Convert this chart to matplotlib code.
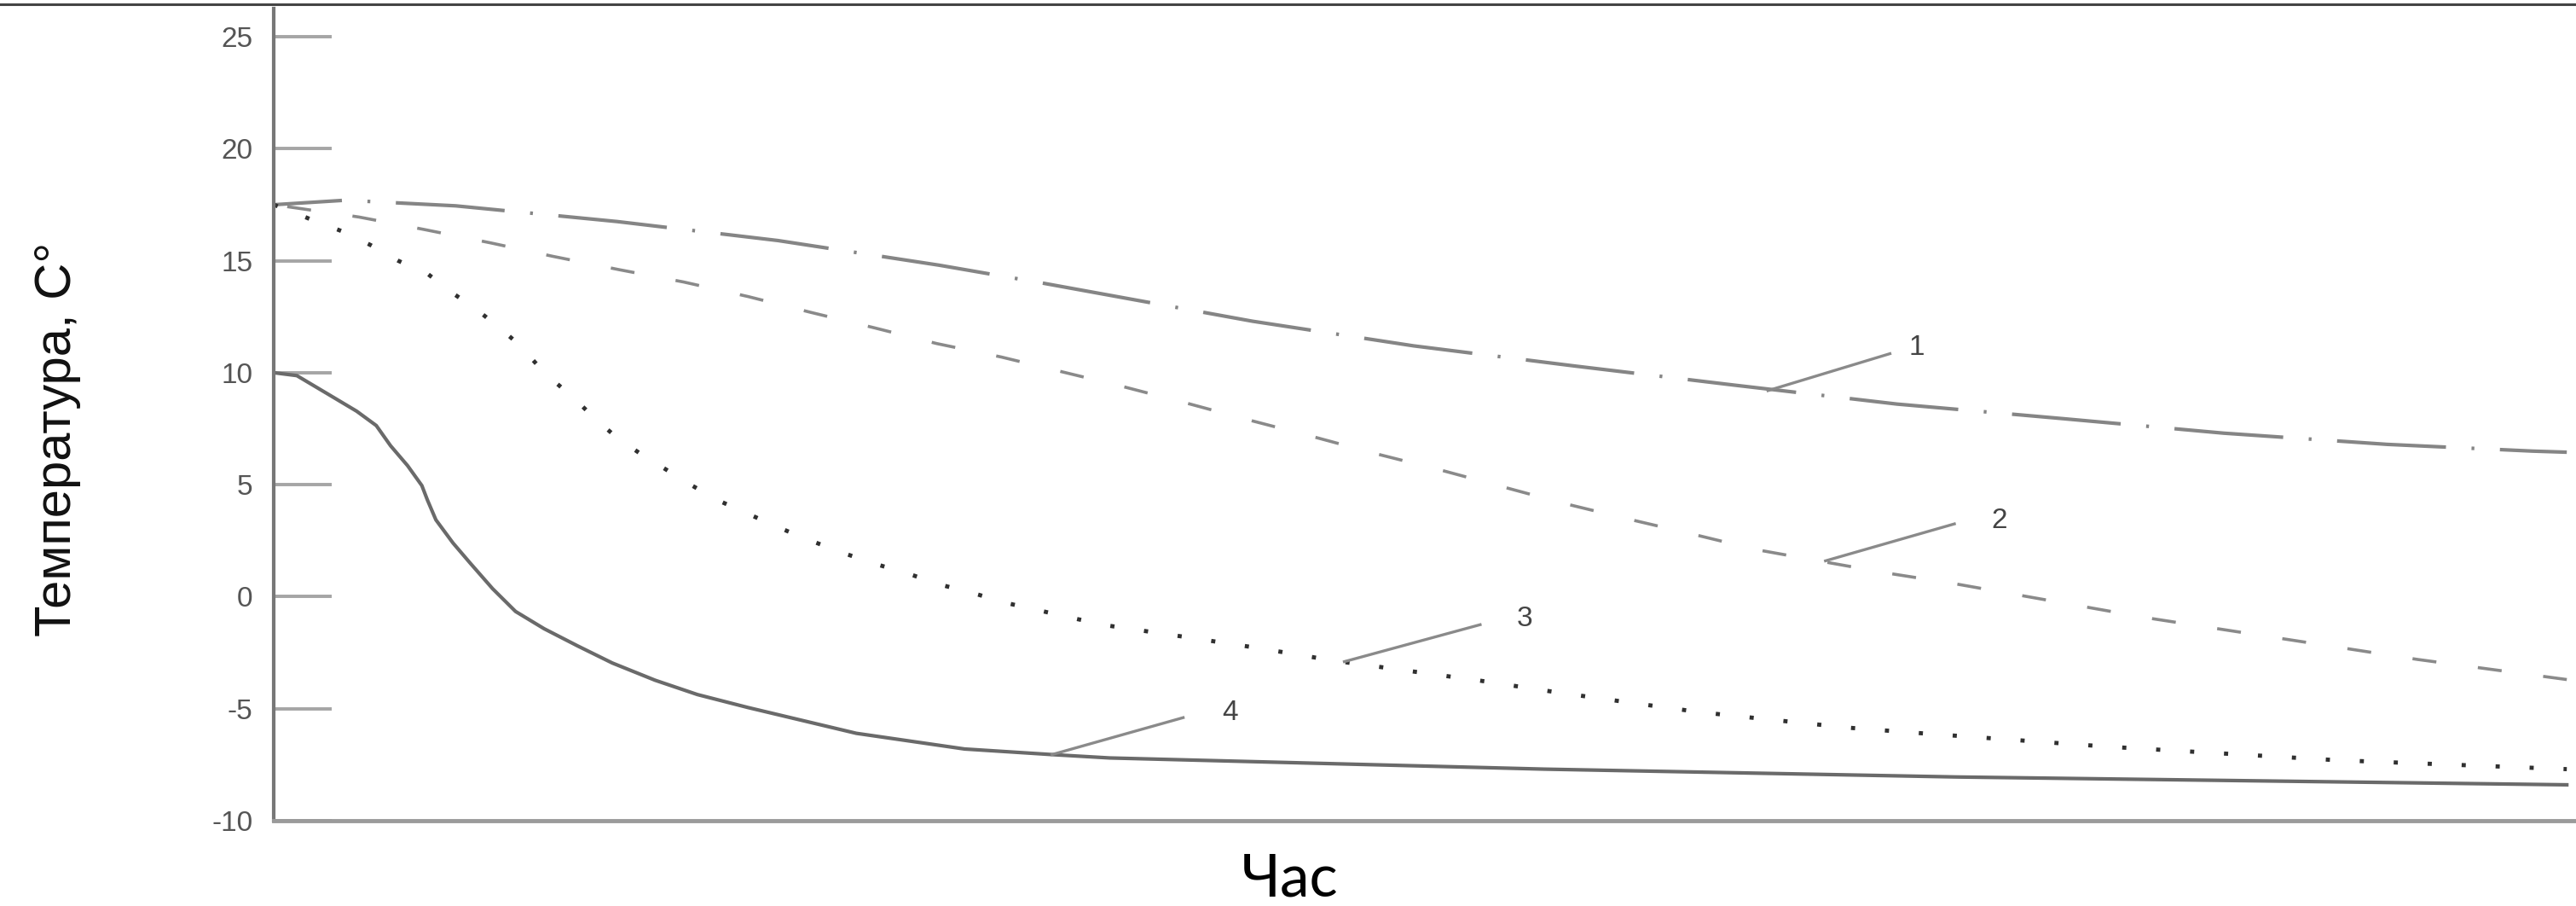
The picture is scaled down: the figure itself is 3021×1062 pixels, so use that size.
import matplotlib
matplotlib.use("Agg")
import matplotlib.pyplot as plt
from matplotlib import font_manager
from matplotlib.lines import Line2D

# curve 1 - dash-dot
x1 = [0, 3.1, 7.9, 14.9, 21.9, 28.9, 33.4, 42.5, 49.5, 56.5, 63.4, 70.5, 77.7, 84.7, 91.8, 98.1, 99.6]
y1 = [17.5, 17.7, 17.45, 16.75, 15.9, 14.8, 14.0, 12.3, 11.2, 10.3, 9.45, 8.6, 7.95, 7.3, 6.8, 6.5, 6.45]

# curve 2 - dashed
x2 = [0, 3.7, 6.5, 9.4, 12.1, 15.0, 17.8, 20.6, 23.3, 26.1, 28.8, 31.6, 34.4, 37.0, 39.8, 42.5,
      45.3, 48.0, 50.7, 53.4, 56.1, 58.9, 61.6, 64.4, 67.1, 70.1, 72.9, 81.4, 93.1, 99.6]
y2 = [17.5, 16.95, 16.4, 15.8, 15.2, 14.6, 14.05, 13.4, 12.7, 12.0, 11.3, 10.7, 10.0, 9.35, 8.6, 7.85,
      7.1, 6.35, 5.65, 4.9, 4.15, 3.45, 2.8, 2.1, 1.6, 1.05, 0.6, -0.95, -2.8, -3.7]

# curve 3 - dotted
x3 = [0, 1.6, 3.0, 4.2, 5.4, 6.7, 7.7, 8.7, 9.7, 10.6, 11.4, 12.2, 13.1, 13.9, 14.9, 15.9, 17.0,
      18.1, 19.3, 20.6, 21.9, 23.2, 24.6, 26.0, 27.5, 28.9, 30.4, 31.9, 33.4, 34.9, 36.3, 39.6,
      42.8, 46.0, 49.2, 52.4, 55.6, 58.7, 61.9, 65.1, 68.4, 71.6, 79.7, 89.6, 99.6]
y3 = [17.5, 16.85, 16.3, 15.7, 15.0, 14.4, 13.6, 12.9, 12.1, 11.3, 10.4, 9.6, 8.8, 8.0, 7.1, 6.4, 5.7,
      5.0, 4.3, 3.7, 3.1, 2.55, 2.0, 1.5, 1.05, 0.55, 0.15, -0.3, -0.65, -1.0, -1.3, -1.8,
      -2.3, -2.85, -3.3, -3.75, -4.25, -4.7, -5.15, -5.5, -5.85, -6.1, -6.7, -7.3, -7.7]

# curve 4 - solid
x4 = [0, 1.0, 2.36, 3.6, 4.45, 5.07, 5.81, 6.43, 6.67, 7.04, 7.78, 8.52, 9.5, 10.5, 11.74, 13.2,
      14.7, 16.56, 18.4, 20.6, 25.3, 30.0, 33.8, 36.3, 55.2, 73.1, 99.6]
y4 = [10, 9.87, 9.04, 8.28, 7.64, 6.74, 5.85, 4.96, 4.32, 3.43, 2.4, 1.51, 0.36, -0.66, -1.43, -2.2,
      -2.96, -3.73, -4.37, -4.95, -6.1, -6.8, -7.05, -7.2, -7.7, -8.05, -8.4]

# callouts: point on curve, end of leader, label position
labels = ["1", "2", "3", "4"]
lead_from = [(64.9, 9.2), (67.4, 1.6), (46.5, -2.9), (33.8, -7.05)]
lead_to = [(70.2, 10.85), (73.0, 3.25), (52.4, -1.25), (39.5, -5.4)]
label_at = [(71.0, 11.1), (74.6, 3.4), (54.0, -1.0), (41.2, -5.2)]

y_ticks = [25, 20, 15, 10, 5, 0, -5, -10]
y_tick_labels = ["25", "20", "15", "10", "5", "0", "-5", "-10"]

names = {f.name for f in font_manager.fontManager.ttflist}
narrow = "Liberation Sans Narrow" if "Liberation Sans Narrow" in names else "Liberation Sans"
plt.rcParams["font.family"] = [narrow, "DejaVu Sans"]

fig = plt.figure(figsize=(30.21, 10.62), dpi=100)
ax = fig.add_axes([0.1063, 0.0942, 0.8937, 0.8964])

ax.plot(x1, y1, color="#858585", lw=3.0, linestyle=(11.5, (30.7, 7.2, 0.8, 7.2)))
ax.plot(x2, y2, color="#8a8a8a", lw=2.6, linestyle=(17, (7.8, 13.6)))
ax.plot(x3, y3, color="#303030", lw=3.5, linestyle=(0, (1, 7.2)))
ax.plot(x4, y4, color="#6a6a6a", lw=3.0)

for lab, p0, p1, pt in zip(labels, lead_from, lead_to, label_at):
    ax.plot([p0[0], p1[0]], [p0[1], p1[1]], color="#8a8a8a", lw=2.4)
    ax.text(pt[0], pt[1], lab, fontsize=24, color="#444444", va="center", ha="left")

ax.set_xlim(0, 100)
ax.set_ylim(-10, 26.26)
ax.set_xticks([])
ax.set_yticks(y_ticks)
ax.set_yticklabels(y_tick_labels)
ax.tick_params(axis="y", direction="in", length=49, width=2.8, color="#a5a5a5",
               labelsize=24, labelcolor="#555555", pad=18)

for side in ["top", "right"]:
    ax.spines[side].set_visible(False)
ax.spines["left"].set_color("#777777")
ax.spines["left"].set_linewidth(3)
ax.spines["bottom"].set_color("#9a9a9a")
ax.spines["bottom"].set_linewidth(3.5)

fig.text(0.0222, 0.515, "Температура, С°", rotation=90, fontsize=43, color="#111111",
         ha="center", va="center")
fig.text(0.5008, 0.029, "Час", fontsize=50, color="#000000", ha="center", va="center",
         family=["Lato", "DejaVu Sans"])

# separator line along the top edge
fig.add_artist(Line2D([0, 1], [0.9953, 0.9953], transform=fig.transFigure, color="#444444", lw=2.2))

fig.savefig("out.png", dpi=100)
